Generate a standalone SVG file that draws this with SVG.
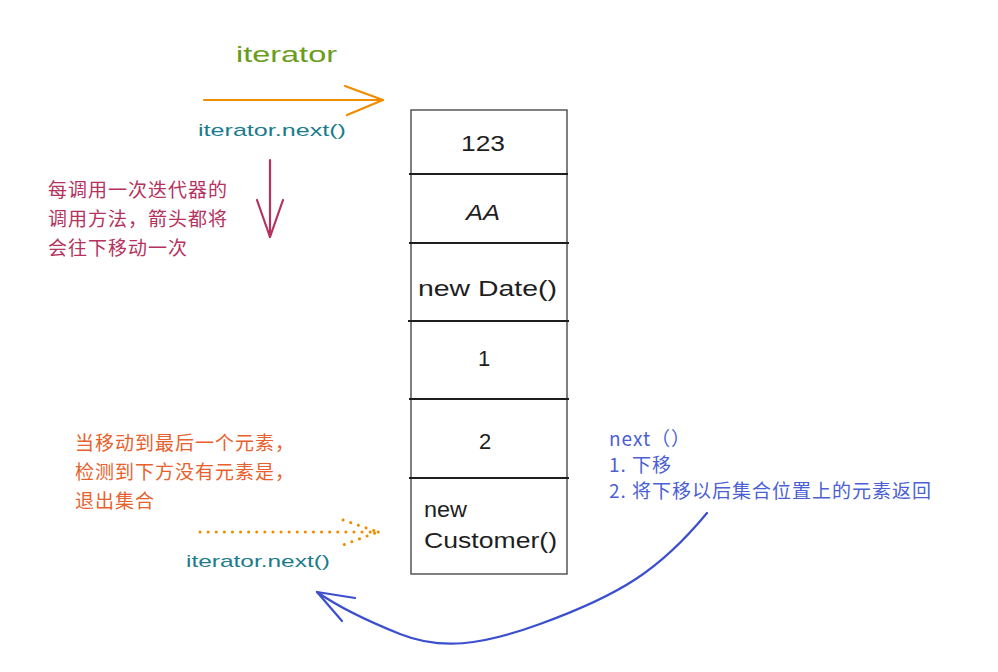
<svg xmlns="http://www.w3.org/2000/svg" width="998" height="672" viewBox="0 0 998 672">
<style>
.hand{font-family:"Liberation Sans","DejaVu Sans",sans-serif;}
.cell{font-family:"Liberation Sans","DejaVu Sans",sans-serif;font-size:22px;fill:#1e1e1e;}
.cjk{font-family:"Noto Sans CJK SC","Noto Sans",sans-serif;font-size:19px;letter-spacing:1px;}
.div{stroke:#1e1e1e;stroke-width:2.2;}
</style>
<rect width="998" height="672" fill="#ffffff"/>
<g id="stack">
<rect x="411" y="110" width="156" height="464" fill="none" stroke="#555" stroke-width="1.5"/>
<line class="div" x1="409" y1="174" x2="568" y2="174"/>
<line class="div" x1="409" y1="243" x2="569" y2="243"/>
<line class="div" x1="408" y1="321" x2="569" y2="321"/>
<line class="div" x1="409" y1="399" x2="569" y2="399"/>
<line class="div" x1="409" y1="478" x2="569" y2="478"/>
<text class="cell" x="461" y="151" textLength="44" lengthAdjust="spacingAndGlyphs">123</text>
<text class="cell" x="466" y="220" font-style="italic" textLength="34" lengthAdjust="spacingAndGlyphs">AA</text>
<text class="cell" x="418" y="296" textLength="139" lengthAdjust="spacingAndGlyphs">new Date()</text>
<text class="cell" x="478" y="366">1</text>
<text class="cell" x="479" y="449">2</text>
<text class="cell" x="424" y="517" textLength="43" lengthAdjust="spacingAndGlyphs">new</text>
<text class="cell" x="424" y="548" textLength="133" lengthAdjust="spacingAndGlyphs">Customer()</text>
</g>
<g id="labels">
<text class="hand" x="236" y="62" font-size="22" fill="#6a9c19" textLength="101" lengthAdjust="spacingAndGlyphs">iterator</text>
<text class="hand" x="198" y="136" font-size="17" fill="#1c7c8c" textLength="148" lengthAdjust="spacingAndGlyphs">iterator.next()</text>
<text class="hand" x="186" y="567" font-size="17" fill="#1c7c8c" textLength="144" lengthAdjust="spacingAndGlyphs">iterator.next()</text>
<g class="cjk" fill="#b5325e">
<text x="48" y="197">每调用一次迭代器的</text>
<text x="48" y="226">调用方法，箭头都将</text>
<text x="48" y="255">会往下移动一次</text>
</g>
<g class="cjk" fill="#e8612c">
<text x="75" y="450">当移动到最后一个元素，</text>
<text x="75" y="479">检测到下方没有元素是，</text>
<text x="75" y="508">退出集合</text>
</g>
<g class="cjk" fill="#4c5fd5">
<text x="609" y="446">next（）</text>
<text x="609" y="472">1. 下移</text>
<text x="609" y="498">2. 将下移以后集合位置上的元素返回</text>
</g>
</g>
<g id="connectors" fill="none" stroke-linecap="round" stroke-linejoin="round">
<g stroke="#f08c00" stroke-width="2.2">
<line x1="204" y1="100" x2="383" y2="100"/>
<polyline points="345,86 383,100 347,115"/>
</g>
<g stroke="#b5325e" stroke-width="2.2">
<line x1="270" y1="160" x2="270" y2="237"/>
<polyline points="257,200 270,237 283,200"/>
</g>
<g stroke="#f08c00" stroke-width="3" stroke-dasharray="0.1 8">
<line x1="200" y1="532" x2="380" y2="532"/>
<polyline points="343,520 378,532 343,545"/>
</g>
<g stroke="#3b4fcf" stroke-width="2.2">
<path d="M707,513 C660,570 620,595 540,624 C480,646 440,650 400,634 C370,622 340,608 317,592"/>
<polyline points="355,598 317,592 342,621"/>
</g>
</g>
</svg>
